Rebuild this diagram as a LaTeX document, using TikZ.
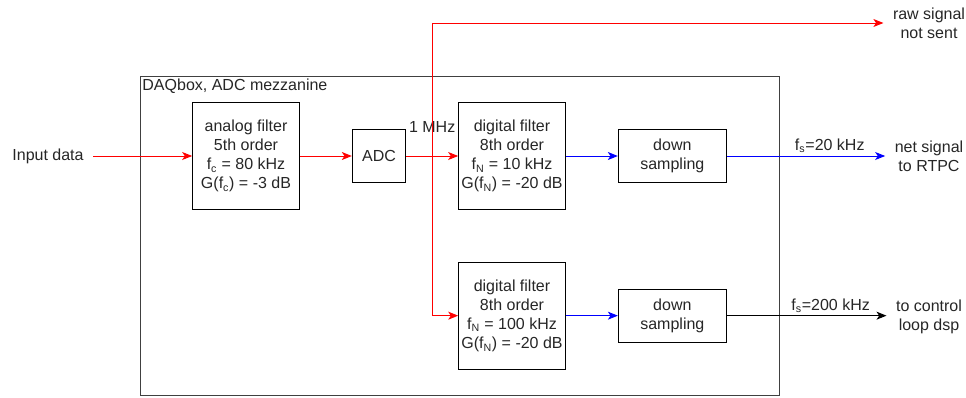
\documentclass[tikz,border=0pt]{standalone}
\usepackage{fontspec}
\setmainfont{Liberation Sans}
\usetikzlibrary{arrows.meta,positioning}

\begin{document}
\begin{tikzpicture}[
  x=0.75pt,y=-0.75pt,
  node distance=39pt and 39pt,
  every node/.style={font=\fontsize{12}{14.4}\selectfont,text=black!85},
  box/.style={draw=black,line width=0.75pt,align=center,inner sep=1pt},
  filt/.style={box,minimum width=80pt,minimum height=80pt},
  adcbox/.style={box,minimum width=40pt,minimum height=40pt},
  dsbox/.style={box,minimum width=81pt,minimum height=40pt},
  io/.style={align=center,inner xsep=7pt},
  lbl/.style={inner sep=2pt},
  arrow/.style={-{Stealth[length=7.5pt,width=6pt,inset=2pt]},line width=0.75pt},
  redline/.style={arrow,red},
  blueline/.style={arrow,blue},
  blackline/.style={arrow,black}
]
  \useasboundingbox (0,0) rectangle (966,397);

  \node[draw=black!75,line width=0.75pt,minimum width=479.25pt,minimum height=239.25pt,
        label={[anchor=north west,inner sep=2pt]north west:DAQbox, ADC mezzanine}] (daq) at (459.5,235.5) {};

  \node[io] (in) at (48,156) {Input data};
  \node[filt] (afilt) at (246,156) {analog filter\\5th order\\f\textsubscript{c} = 80 kHz\\G(f\textsubscript{c}) = -3 dB};
  \node[adcbox,right=of afilt] (adc) {ADC};
  \node[filt,right=of adc] (dfilt) {digital filter\\8th order\\f\textsubscript{N} = 10 kHz\\G(f\textsubscript{N}) = -20 dB};
  \node[dsbox,right=of dfilt] (ds) {down\\sampling};

  \node[filt,below=of dfilt] (dfiltb) {digital filter\\8th order\\f\textsubscript{N} = 100 kHz\\G(f\textsubscript{N}) = -20 dB};
  \node[dsbox,right=of dfiltb] (dsb) {down\\sampling};

  \node[io] (rawout) at (929,23) {raw signal\\not sent};
  \node[io] (netout) at (929,156) {net signal\\to RTPC};
  \node[io] (ctlout) at (929,317) {to control\\loop dsp};

  \path (adc) -- coordinate[midway] (split) (dfilt);
  \node[lbl,above=15.5pt] (mhz) at (split) {1 MHz};

  \draw[redline] (in) -- (afilt);
  \draw[redline] (afilt) -- (adc);
  \draw[redline] (adc) -- (dfilt);
  \draw[redline] (split) |- (rawout.west);
  \draw[redline] (split) |- (dfiltb);
  \draw[blueline] (dfilt) -- (ds);
  \draw[blueline] (ds) -- node[lbl,above,pos=0.65] {f\textsubscript{s}=20 kHz} (ds -| netout.west);
  \draw[blueline] (dfiltb) -- (dsb);
  \draw[blackline] (dsb) -- node[lbl,above,pos=0.65] {f\textsubscript{s}=200 kHz} (dsb -| ctlout.west);
\end{tikzpicture}
\end{document}
